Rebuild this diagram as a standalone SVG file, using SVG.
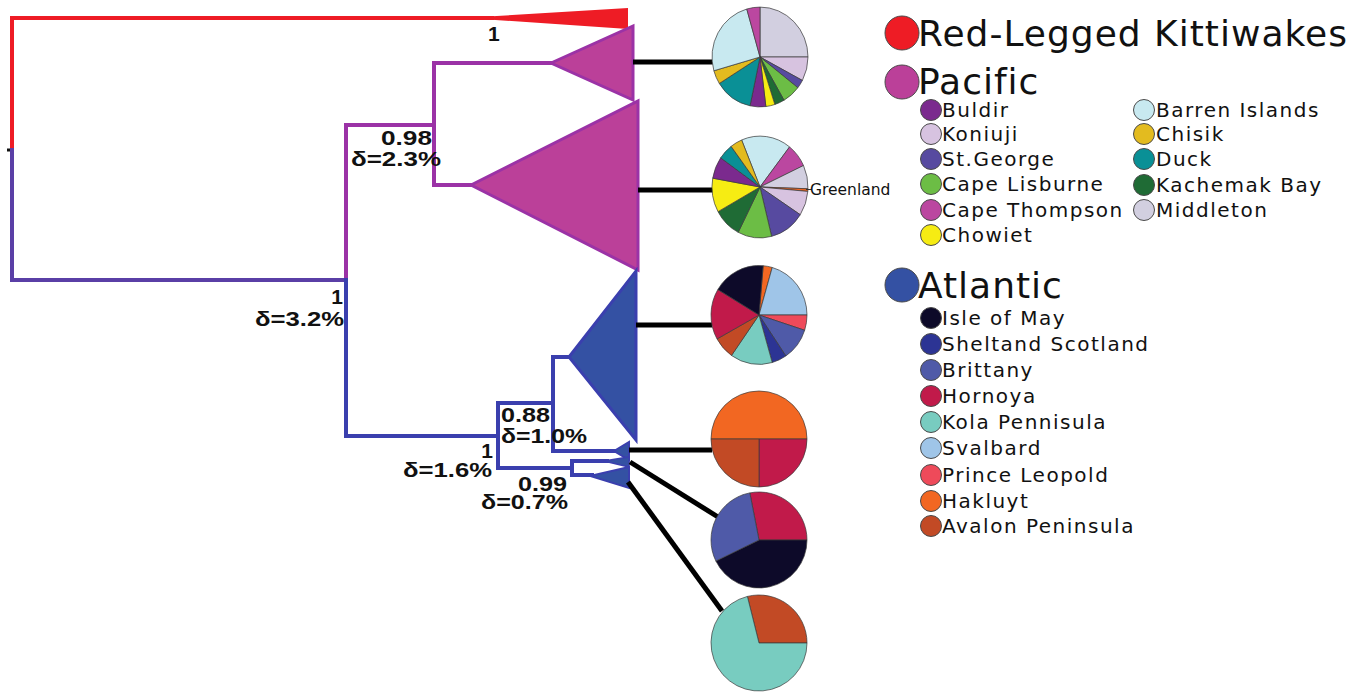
<svg xmlns="http://www.w3.org/2000/svg" width="1367" height="692" viewBox="0 0 1367 692">
<style>
.tr{fill:none;stroke-width:4;stroke-linecap:square}
.pu{stroke:#9b32a6}
.bl{stroke:#3a3fae}
.con{stroke:#000;stroke-width:5;fill:none}
.pie path{stroke:#3a3a3a;stroke-width:0.7;stroke-linejoin:round}
.lab{font-family:"Liberation Sans",Arial,sans-serif;font-weight:bold;font-size:21px;fill:#111}
.big{font-family:"DejaVu Sans",Verdana,sans-serif;font-size:36px;letter-spacing:1px;fill:#111}
.sm{font-family:"DejaVu Sans",Verdana,sans-serif;font-size:20px;letter-spacing:1.5px;fill:#111}
.lc{stroke:#4a4a4a;stroke-width:1}
</style>
<rect width="1367" height="692" fill="#fff"/>
<g id="tree">
  <line x1="7" y1="150" x2="12" y2="150" stroke="#111" stroke-width="3"/>
  <polyline class="tr" stroke="#ee1c25" points="12,150 12,18 492,18"/>
  <polygon points="488,16.5 628,8 628,29 488,19.5" fill="#ee1c25"/>
  <polyline class="tr" stroke="#5a3fa6" points="12,150 12,280 346,280"/>
  <polyline class="tr pu" points="346,280 346,125 434,125"/>
  <polyline class="tr pu" points="551,63 434,63 434,185 471,185"/>
  <polyline class="tr bl" points="346,280 346,436 498,436"/>
  <polyline class="tr bl" points="498,436 498,403 553,403 553,357 569,357"/>
  <polyline class="tr bl" points="553,403 553,451 615,451"/>
  <polyline class="tr bl" points="498,436 498,468 572,468"/>
  <polyline class="tr bl" points="607,461 572,461 572,475 592,475"/>
</g>
<g id="clade-red"><text class="lab" x="488" y="41">1</text></g>
<g id="clade-pacific1"><polygon points="551,63 633,26 633,100" fill="#bb4099" stroke="#9b32a6" stroke-width="3"/></g>
<g id="clade-pacific2"><polygon points="471,185 638,101 638,270" fill="#bb4099" stroke="#9b32a6" stroke-width="3"/></g>
<g id="clade-atlantic1"><polygon points="569,357 636,271 636,440" fill="#3451a3" stroke="#3a3fae" stroke-width="3"/></g>
<g id="clade-atlantic2"><polygon points="614,451 629,442 629,460" fill="#3451a3" stroke="#3a3fae" stroke-width="2"/></g>
<g id="clade-atlantic3"><polygon points="604,461 629,457 629,467" fill="#3451a3" stroke="#3a3fae" stroke-width="1.5"/></g>
<g id="clade-atlantic4"><polygon points="590,476 629,467 629,488" fill="#3451a3" stroke="#3a3fae" stroke-width="2"/></g>
<g id="node-labels">
  <text class="lab" x="432" y="145" text-anchor="end" textLength="51" lengthAdjust="spacingAndGlyphs">0.98</text>
  <text class="lab" x="441" y="166" text-anchor="end" textLength="90" lengthAdjust="spacingAndGlyphs">δ=2.3%</text>
  <text class="lab" x="343" y="304" text-anchor="end">1</text>
  <text class="lab" x="344" y="326" text-anchor="end" textLength="89" lengthAdjust="spacingAndGlyphs">δ=3.2%</text>
  <text class="lab" x="501" y="422" textLength="49" lengthAdjust="spacingAndGlyphs">0.88</text>
  <text class="lab" x="501" y="443" textLength="86" lengthAdjust="spacingAndGlyphs">δ=1.0%</text>
  <text class="lab" x="493" y="458" text-anchor="end">1</text>
  <text class="lab" x="492" y="477" text-anchor="end" textLength="89" lengthAdjust="spacingAndGlyphs">δ=1.6%</text>
  <text class="lab" x="567" y="491" text-anchor="end" textLength="49" lengthAdjust="spacingAndGlyphs">0.99</text>
  <text class="lab" x="568" y="509" text-anchor="end" textLength="87" lengthAdjust="spacingAndGlyphs">δ=0.7%</text>
</g>
<g id="connectors">
  <line class="con" x1="633" y1="62" x2="713" y2="62"/>
  <line class="con" x1="638" y1="190" x2="713" y2="190"/>
  <line class="con" x1="636" y1="325" x2="712" y2="325"/>
  <line class="con" x1="629" y1="450" x2="712" y2="450"/>
  <line class="con" x1="630" y1="462" x2="718" y2="517"/>
  <line class="con" x1="628" y1="482" x2="722" y2="611"/>
</g>
<g id="pie1" class="pie" transform="translate(0,57) scale(1,1.04) translate(0,-53)">
  <path fill="#d2cfe0" d="M760,53 L760,5 A48,48 0 0 1 808,53 Z"/>
  <path fill="#d7c3e0" d="M760,53 L808,53 A48,48 0 0 1 802.38,75.54 Z"/>
  <path fill="#574aa0" d="M760,53 L802.38,75.54 A48,48 0 0 1 797.82,82.55 Z"/>
  <path fill="#6cbd45" d="M760,53 L797.82,82.55 A48,48 0 0 1 784,94.57 Z"/>
  <path fill="#1f6b35" d="M760,53 L784,94.57 A48,48 0 0 1 774.83,98.65 Z"/>
  <path fill="#f6ec13" d="M760,53 L774.83,98.65 A48,48 0 0 1 765.85,100.64 Z"/>
  <path fill="#7b2a8e" d="M760,53 L765.85,100.64 A48,48 0 0 1 750.02,99.95 Z"/>
  <path fill="#0a9096" d="M760,53 L750.02,99.95 A48,48 0 0 1 719.30,78.44 Z"/>
  <path fill="#e3bb1f" d="M760,53 L719.30,78.44 A48,48 0 0 1 713.86,66.23 Z"/>
  <path fill="#c8e9f0" d="M760,53 L713.86,66.23 A48,48 0 0 1 746.77,6.86 Z"/>
  <path fill="#bb47a0" d="M760,53 L746.77,6.86 A48,48 0 0 1 760,5 Z"/>
</g>
<g id="pie2">
  <g class="pie" transform="translate(0,187) scale(1,1.06) translate(0,-186)">
  <path fill="#c8e9f0" d="M760,186 L741.63,141.65 A48,48 0 0 1 789.55,148.18 Z"/>
  <path fill="#bb47a0" d="M760,186 L789.55,148.18 A48,48 0 0 1 803.50,165.72 Z"/>
  <path fill="#d2cfe0" d="M760,186 L803.50,165.72 A48,48 0 0 1 807.97,187.68 Z"/>
  <path fill="#f26722" d="M760,186 L807.97,187.68 A48,48 0 0 1 807.82,190.18 Z"/>
  <path fill="#d7c3e0" d="M760,186 L807.82,190.18 A48,48 0 0 1 800.26,212.14 Z"/>
  <path fill="#574aa0" d="M760,186 L800.26,212.14 A48,48 0 0 1 771.61,232.57 Z"/>
  <path fill="#6cbd45" d="M760,186 L771.61,232.57 A48,48 0 0 1 738.21,228.77 Z"/>
  <path fill="#1f6b35" d="M760,186 L738.21,228.77 A48,48 0 0 1 718.02,209.27 Z"/>
  <path fill="#f6ec13" d="M760,186 L718.02,209.27 A48,48 0 0 1 712.73,177.67 Z"/>
  <path fill="#7b2a8e" d="M760,186 L712.73,177.67 A48,48 0 0 1 720.68,158.47 Z"/>
  <path fill="#0a9096" d="M760,186 L720.68,158.47 A48,48 0 0 1 731.11,147.67 Z"/>
  <path fill="#e3bb1f" d="M760,186 L731.11,147.67 A48,48 0 0 1 741.63,141.65 Z"/>
  </g>
  <line x1="806" y1="189.5" x2="812" y2="189.5" stroke="#333" stroke-width="1"/>
  <text x="810" y="195" font-family="'DejaVu Sans',Verdana,sans-serif" font-size="15.5" fill="#111">Greenland</text>
</g>
<g id="pie3" class="pie" transform="translate(0,315) scale(1,1.03) translate(0,-315)">
  <path fill="#f26722" d="M759,315 L763.18,267.18 A48,48 0 0 1 772.23,268.86 Z"/>
  <path fill="#9fc5e8" d="M759,315 L772.23,268.86 A48,48 0 0 1 807,315 Z"/>
  <path fill="#ee4a5a" d="M759,315 L807,315 A48,48 0 0 1 804.65,329.83 Z"/>
  <path fill="#4f5aa8" d="M759,315 L804.65,329.83 A48,48 0 0 1 785.84,354.79 Z"/>
  <path fill="#2c3494" d="M759,315 L785.84,354.79 A48,48 0 0 1 772.23,361.14 Z"/>
  <path fill="#78ccc0" d="M759,315 L772.23,361.14 A48,48 0 0 1 731.47,354.32 Z"/>
  <path fill="#c24a25" d="M759,315 L731.47,354.32 A48,48 0 0 1 717.02,338.27 Z"/>
  <path fill="#c11a4a" d="M759,315 L717.02,338.27 A48,48 0 0 1 717.85,290.28 Z"/>
  <path fill="#0d0a29" d="M759,315 L717.85,290.28 A48,48 0 0 1 763.18,267.18 Z"/>
</g>
<g id="pie4" class="pie">
  <path fill="#f26722" d="M759,439 L711,439 A48,48 0 0 1 807,439 Z"/>
  <path fill="#c11a4a" d="M759,439 L807,439 A48,48 0 0 1 759,487 Z"/>
  <path fill="#c24a25" d="M759,439 L759,487 A48,48 0 0 1 711,439 Z"/>
</g>
<g id="pie5" class="pie">
  <path fill="#c11a4a" d="M759,540 L749.84,492.88 A48,48 0 0 1 807,540 Z"/>
  <path fill="#0d0a29" d="M759,540 L807,540 A48,48 0 0 1 715.86,561.04 Z"/>
  <path fill="#4f5aa8" d="M759,540 L715.86,561.04 A48,48 0 0 1 749.84,492.88 Z"/>
</g>
<g id="pie6" class="pie">
  <path fill="#c24a25" d="M759,643 L747.39,596.43 A48,48 0 0 1 807,643 Z"/>
  <path fill="#78ccc0" d="M759,643 L807,643 A48,48 0 1 1 747.39,596.43 Z"/>
</g>
<g id="legend">
  <circle class="lc" cx="902" cy="33" r="17" fill="#ee1c25"/>
  <text class="big" x="918" y="46">Red-Legged Kittiwakes</text>
  <circle class="lc" cx="902" cy="82" r="17" fill="#bb4099"/>
  <text class="big" x="918" y="94">Pacific</text>
  <circle class="lc" cx="931" cy="110" r="10.5" fill="#7b2a8e"/><text class="sm" x="942" y="117">Buldir</text>
  <circle class="lc" cx="931" cy="134" r="10.5" fill="#d7c3e0"/><text class="sm" x="942" y="141">Koniuji</text>
  <circle class="lc" cx="931" cy="159" r="10.5" fill="#574aa0"/><text class="sm" x="942" y="166">St.George</text>
  <circle class="lc" cx="931" cy="184" r="10.5" fill="#6cbd45"/><text class="sm" x="942" y="191">Cape Lisburne</text>
  <circle class="lc" cx="931" cy="210" r="10.5" fill="#bb47a0"/><text class="sm" x="942" y="217">Cape Thompson</text>
  <circle class="lc" cx="931" cy="235" r="10.5" fill="#f6ec13"/><text class="sm" x="942" y="242">Chowiet</text>
  <circle class="lc" cx="1144" cy="110" r="10.5" fill="#c8e9f0"/><text class="sm" x="1156" y="117">Barren Islands</text>
  <circle class="lc" cx="1144" cy="134" r="10.5" fill="#e3bb1f"/><text class="sm" x="1156" y="141">Chisik</text>
  <circle class="lc" cx="1144" cy="159" r="10.5" fill="#0a9096"/><text class="sm" x="1156" y="166">Duck</text>
  <circle class="lc" cx="1144" cy="185" r="10.5" fill="#1f6b35"/><text class="sm" x="1156" y="192">Kachemak Bay</text>
  <circle class="lc" cx="1144" cy="210" r="10.5" fill="#d2cfe0"/><text class="sm" x="1156" y="217">Middleton</text>
  <circle class="lc" cx="902" cy="285" r="17" fill="#3451a3"/>
  <text class="big" x="918" y="298">Atlantic</text>
  <circle class="lc" cx="931" cy="318" r="10.5" fill="#0d0a29"/><text class="sm" x="942" y="325">Isle of May</text>
  <circle class="lc" cx="931" cy="344" r="10.5" fill="#2c3494"/><text class="sm" x="942" y="351">Sheltand Scotland</text>
  <circle class="lc" cx="931" cy="370" r="10.5" fill="#4f5aa8"/><text class="sm" x="942" y="377">Brittany</text>
  <circle class="lc" cx="931" cy="396" r="10.5" fill="#c11a4a"/><text class="sm" x="942" y="403">Hornoya</text>
  <circle class="lc" cx="931" cy="422" r="10.5" fill="#78ccc0"/><text class="sm" x="942" y="429">Kola Pennisula</text>
  <circle class="lc" cx="931" cy="448" r="10.5" fill="#9fc5e8"/><text class="sm" x="942" y="455">Svalbard</text>
  <circle class="lc" cx="931" cy="475" r="10.5" fill="#ee4a5a"/><text class="sm" x="942" y="482">Prince Leopold</text>
  <circle class="lc" cx="931" cy="501" r="10.5" fill="#f26722"/><text class="sm" x="942" y="508">Hakluyt</text>
  <circle class="lc" cx="931" cy="526" r="10.5" fill="#c24a25"/><text class="sm" x="942" y="533">Avalon Peninsula</text>
</g>
</svg>
